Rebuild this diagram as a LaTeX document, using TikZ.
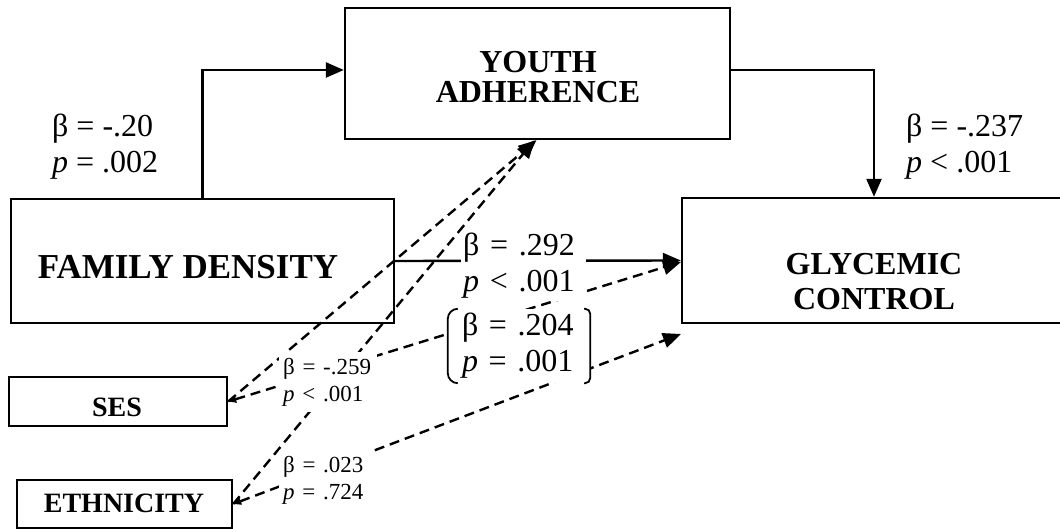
\documentclass[tikz,border=0pt]{standalone}
\usepackage{fontspec}
\setmainfont{Liberation Serif}
\usetikzlibrary{arrows.meta}
\tikzset{
  bigtip/.tip={Triangle[length=18pt,width=15pt]},
  smalltip/.tip={Triangle[length=8pt,width=7pt]},
}
\begin{document}
\begin{tikzpicture}[x=1pt,y=-1pt,
  box/.style={draw, line width=2.4pt, inner sep=0pt},
  title/.style={font=\fontsize{32}{30}\selectfont\bfseries, align=center, inner sep=0pt},
  big/.style={font=\fontsize{32}{36}\selectfont, align=left, inner sep=2pt},
  small/.style={font=\fontsize{23}{27}\selectfont, align=left, fill=white, inner xsep=4pt, inner ysep=6pt},
  solidline/.style={line width=2.4pt},
  dashline/.style={line width=2.4pt, dash pattern=on 10pt off 6pt},
]
\useasboundingbox (0,0) rectangle (1060,529);

% boxes
\node[box, minimum width=385pt, minimum height=131pt] (ya) at (537.5,73.5) {};
\node[title] (yat) at (538,77) {YOUTH\\ADHERENCE};
\node[box, minimum width=383pt, minimum height=124pt] (fd) at (202.5,261) {};
\node[title, font=\fontsize{35}{38}\selectfont\bfseries] (fdt) at (188,267) {FAMILY DENSITY};
\node[box, minimum width=384pt, minimum height=125pt] (gc) at (874,260.5) {};
\node[title, font=\fontsize{32}{35}\selectfont\bfseries] (gct) at (874,282) {GLYCEMIC\\CONTROL};
\node[box, minimum width=218pt, minimum height=49pt] (ses) at (118,401.5) {};
\node[title, font=\fontsize{28}{32}\selectfont\bfseries] (sest) at (117,407) {SES};
\node[box, minimum width=215pt, minimum height=48pt] (eth) at (124.5,504) {};
\node[title, font=\fontsize{28}{32}\selectfont\bfseries] (etht) at (124,503) {ETHNICITY};

% connectors
\coordinate (gcin1) at (681,262);
\coordinate (gcin2) at (681,334);
\draw[solidline, -bigtip] (fd.north) |- ([yshift=3.5pt]ya.west);
\draw[solidline, -bigtip] ([yshift=3.5pt]ya.east) -| (gc.north);
\draw[solidline, -bigtip] (fd.east) -- (gc.west);
\draw[dashline, smalltip-bigtip] (ses.east) -- (gcin1);
\draw[dashline, -bigtip] (ses.east) -- ([xshift=-1pt]ya.south);
\draw[dashline, smalltip-bigtip] (eth.east) -- (gcin2);
\draw[dashline, -bigtip] (eth.east) -- ([xshift=-3pt]ya.south);

% labels
\node[big, anchor=west] (b1) at (50,147) {β = -.20\\\textit{p} = .002};
\node[big, anchor=west] (b2) at (904,147) {β = -.237\\\textit{p} < .001};
\node[big, fill=white, text width=121pt, inner xsep=2pt, anchor=west] (b3) at (461,266) {β = .292\\\textit{p} < .001};
\node[big, fill=white, text width=114pt, inner xsep=14pt, minimum height=74pt] (b4) at (519,346) {β = .204\\\textit{p} = .001};
\draw[line width=1.8pt, rounded corners=10pt] ([xshift=10pt]b4.north west) -- (b4.north west) -- (b4.south west) -- ([xshift=10pt]b4.south west);
\draw[line width=1.8pt, rounded corners=5pt] ([xshift=-6pt]b4.north east) -- (b4.north east) -- (b4.south east) -- ([xshift=-6pt]b4.south east);
\node[small, text width=90pt, anchor=west] (s1) at (279,382) {β = -.259\\\textit{p} < .001};
\node[small, text width=87pt, anchor=west] (s2) at (279,480) {β = .023\\\textit{p} = .724};
\end{tikzpicture}
\end{document}
